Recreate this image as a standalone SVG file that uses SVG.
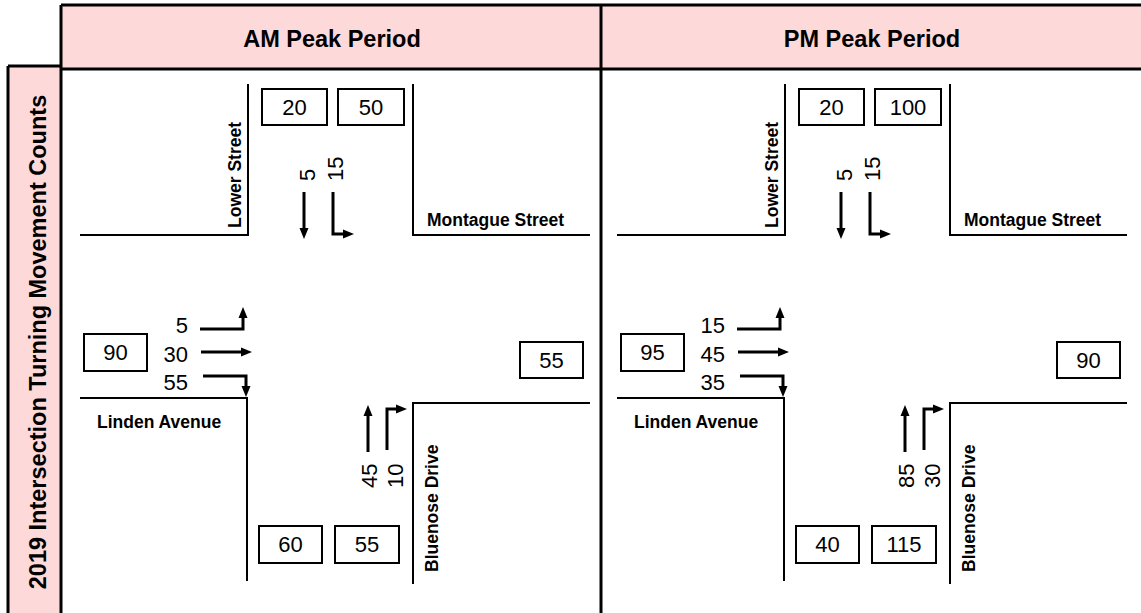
<svg xmlns="http://www.w3.org/2000/svg" width="1141" height="613" viewBox="0 0 1141 613">
<style>
.hdr{fill:#FDD9D9}
.border{stroke:#000;stroke-width:3;fill:none}
.street{stroke:#000;stroke-width:2;fill:none}
.box{fill:#fff;stroke:#000;stroke-width:2}
.num{font-family:"Liberation Sans",Arial,sans-serif;font-size:22px;fill:#000}
.lbl{font-family:"Liberation Sans",Arial,sans-serif;font-size:17.5px;font-weight:bold;fill:#000}
.title{font-family:"Liberation Sans",Arial,sans-serif;font-size:23.5px;font-weight:bold;fill:#000}
.arr{stroke:#000;stroke-width:3;fill:none;stroke-linejoin:miter;marker-end:url(#ah)}
</style>
<defs>
<marker id="ah" markerUnits="userSpaceOnUse" markerWidth="11" markerHeight="10" refX="1" refY="5" orient="auto" viewBox="0 0 11 10">
<path d="M0,0.5 L11,5 L0,9.5 z" fill="#000"/>
</marker>
</defs>
<rect width="1141" height="613" fill="#fff"/>
<g id="header">
<rect class="hdr" x="61" y="5" width="1080" height="64"/>
<text class="title" x="332" y="47" text-anchor="middle">AM Peak Period</text>
<text class="title" x="872" y="47" text-anchor="middle">PM Peak Period</text>
</g>
<g id="sidebar">
<rect class="hdr" x="8" y="66" width="53" height="547"/>
<text class="title" transform="translate(46,342) rotate(-90)" text-anchor="middle">2019 Intersection  Turning  Movement  Counts</text>
</g>
<g id="frame">
<path class="border" d="M61,5 H1141 M61,69 H1141 M61,5 V613 M601,5 V613 M8,66 H61 M8,66 V613"/>
</g>
<g id="am-panel">
<g id="am-streets">
<path class="street" d="M80,235 H248 V84"/>
<path class="street" d="M413,84 V235 H590"/>
<path class="street" d="M80,398 H247 V581"/>
<path class="street" d="M413,584 V403 H590"/>
<text class="lbl" transform="translate(241,228) rotate(-90)">Lower Street</text>
<text class="lbl" x="427" y="226">Montague Street</text>
<text class="lbl" x="97" y="428">Linden Avenue</text>
<text class="lbl" transform="translate(438,572) rotate(-90)">Bluenose Drive</text>
</g>
<g id="am-box-sb-in"><rect class="box" x="262" y="89" width="65" height="36"/><text class="num" x="294.5" y="115" text-anchor="middle">20</text></g>
<g id="am-box-sb-out"><rect class="box" x="338" y="89" width="66" height="36"/><text class="num" x="371" y="115" text-anchor="middle">50</text></g>
<g id="am-box-eb-in"><rect class="box" x="84" y="334" width="63" height="37"/><text class="num" x="115.5" y="360" text-anchor="middle">90</text></g>
<g id="am-box-wb-out"><rect class="box" x="520" y="342" width="63" height="36"/><text class="num" x="551.5" y="368" text-anchor="middle">55</text></g>
<g id="am-box-nb-out"><rect class="box" x="259" y="526" width="63" height="37"/><text class="num" x="290.5" y="552" text-anchor="middle">60</text></g>
<g id="am-box-nb-in"><rect class="box" x="335" y="526" width="64" height="37"/><text class="num" x="367" y="552" text-anchor="middle">55</text></g>
<g id="am-counts">
<text class="num" transform="translate(315,181) rotate(-90)">5</text>
<text class="num" transform="translate(343,181) rotate(-90)">15</text>
<text class="num" x="188" y="333" text-anchor="end">5</text>
<text class="num" x="188" y="362" text-anchor="end">30</text>
<text class="num" x="188" y="390" text-anchor="end">55</text>
<text class="num" transform="translate(377,488) rotate(-90)">45</text>
<text class="num" transform="translate(403,488) rotate(-90)">10</text>
</g>
</g>
<g id="pm-panel" transform="translate(537,0)">
<g id="pm-streets">
<path class="street" d="M80,235 H248 V84"/>
<path class="street" d="M413,84 V235 H590"/>
<path class="street" d="M80,398 H247 V581"/>
<path class="street" d="M413,584 V403 H590"/>
<text class="lbl" transform="translate(241,228) rotate(-90)">Lower Street</text>
<text class="lbl" x="427" y="226">Montague Street</text>
<text class="lbl" x="97" y="428">Linden Avenue</text>
<text class="lbl" transform="translate(438,572) rotate(-90)">Bluenose Drive</text>
</g>
<g id="pm-box-sb-in"><rect class="box" x="262" y="89" width="65" height="36"/><text class="num" x="294.5" y="115" text-anchor="middle">20</text></g>
<g id="pm-box-sb-out"><rect class="box" x="338" y="89" width="66" height="36"/><text class="num" x="371" y="115" text-anchor="middle">100</text></g>
<g id="pm-box-eb-in"><rect class="box" x="84" y="334" width="63" height="37"/><text class="num" x="115.5" y="360" text-anchor="middle">95</text></g>
<g id="pm-box-wb-out"><rect class="box" x="520" y="342" width="63" height="36"/><text class="num" x="551.5" y="368" text-anchor="middle">90</text></g>
<g id="pm-box-nb-out"><rect class="box" x="259" y="526" width="63" height="37"/><text class="num" x="290.5" y="552" text-anchor="middle">40</text></g>
<g id="pm-box-nb-in"><rect class="box" x="335" y="526" width="64" height="37"/><text class="num" x="367" y="552" text-anchor="middle">115</text></g>
<g id="pm-counts">
<text class="num" transform="translate(315,181) rotate(-90)">5</text>
<text class="num" transform="translate(343,181) rotate(-90)">15</text>
<text class="num" x="188" y="333" text-anchor="end">15</text>
<text class="num" x="188" y="362" text-anchor="end">45</text>
<text class="num" x="188" y="390" text-anchor="end">35</text>
<text class="num" transform="translate(377,488) rotate(-90)">85</text>
<text class="num" transform="translate(403,488) rotate(-90)">30</text>
</g>
</g>
<g id="connectors">
<g id="am-arrows">
<path class="arr" d="M304,192 V229"/>
<path class="arr" d="M333,192 V234 H344"/>
<path class="arr" d="M200,329 H243 V317"/>
<path class="arr" d="M201,352 H242"/>
<path class="arr" d="M203,376 H246 V387"/>
<path class="arr" d="M368,452 V415"/>
<path class="arr" d="M387,450 V409 H397"/>
</g>
<g id="pm-arrows" transform="translate(537,0)">
<path class="arr" d="M304,192 V229"/>
<path class="arr" d="M333,192 V234 H344"/>
<path class="arr" d="M200,329 H243 V317"/>
<path class="arr" d="M201,352 H242"/>
<path class="arr" d="M203,376 H246 V387"/>
<path class="arr" d="M368,452 V415"/>
<path class="arr" d="M387,450 V409 H397"/>
</g>
</g>
</svg>
